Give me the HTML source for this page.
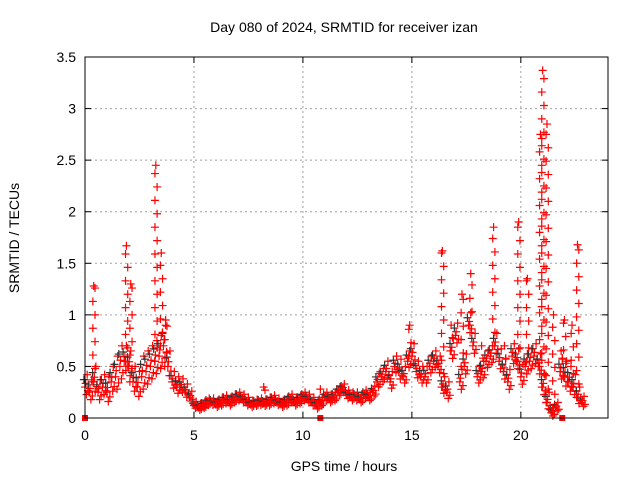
<!DOCTYPE html>
<html><head><meta charset="utf-8"><style>
body{margin:0;background:#fff}
svg{display:block;font-family:"Liberation Sans",sans-serif}
</style></head><body>
<svg id="chart" width="640" height="480">
<text x="344" y="32" text-anchor="middle" font-size="14">Day 080 of 2024, SRMTID for receiver izan</text>
<text x="344" y="471" text-anchor="middle" font-size="14">GPS time / hours</text>
<text transform="translate(19,238) rotate(-90)" text-anchor="middle" font-size="14">SRMTID / TECUs</text>
<g id="grid"></g><g id="ticks"></g><g id="marks"></g>
<rect x="85" y="57" width="523" height="361" fill="none" stroke="#000" stroke-width="1"/>
</svg>
<script>
const xTicks=[0,5,10,15,20];
const yTicks=[0,0.5,1,1.5,2,2.5,3,3.5];
const yTickLabels=["0","0.5","1","1.5","2","2.5","3","3.5"];
const baseStart=0, baseStep=0.2;
const baseValues=[0.3,0.25,0.35,0.25,0.3,0.25,0.35,0.4,0.5,0.55,0.5,0.35,0.3,0.4,0.45,0.5,0.55,0.6,0.7,0.5,0.35,0.3,0.3,0.25,0.2,0.12,0.1,0.12,0.15,0.15,0.13,0.15,0.17,0.15,0.18,0.2,0.18,0.15,0.13,0.14,0.15,0.14,0.15,0.17,0.15,0.13,0.15,0.18,0.15,0.17,0.2,0.18,0.15,0.12,0.15,0.2,0.18,0.2,0.25,0.28,0.22,0.2,0.2,0.18,0.22,0.2,0.25,0.35,0.4,0.45,0.35,0.5,0.45,0.4,0.55,0.6,0.45,0.4,0.4,0.5,0.55,0.5,0.3,0.25,0.65,0.8,0.35,0.5,0.9,0.7,0.4,0.45,0.55,0.6,0.7,0.55,0.45,0.35,0.6,0.55,0.4,0.5,0.55,0.6,0.5,0.3,0.15,0.05,0.1,0.45,0.4,0.35,0.3,0.2,0.15];
const spreadValues=[0.12,0.12,0.15,0.12,0.12,0.15,0.15,0.2,0.2,0.15,0.15,0.15,0.15,0.2,0.2,0.2,0.2,0.2,0.2,0.15,0.1,0.1,0.08,0.08,0.06,0.04,0.04,0.04,0.04,0.04,0.04,0.05,0.05,0.05,0.05,0.05,0.05,0.05,0.04,0.04,0.04,0.04,0.05,0.05,0.04,0.04,0.05,0.05,0.05,0.05,0.05,0.05,0.05,0.05,0.05,0.05,0.05,0.05,0.05,0.05,0.05,0.05,0.05,0.05,0.05,0.05,0.06,0.08,0.08,0.1,0.1,0.1,0.12,0.1,0.1,0.12,0.1,0.1,0.1,0.1,0.1,0.1,0.1,0.1,0.12,0.12,0.12,0.12,0.12,0.12,0.1,0.1,0.1,0.1,0.12,0.12,0.12,0.12,0.12,0.12,0.12,0.12,0.12,0.12,0.12,0.12,0.1,0.05,0.05,0.12,0.15,0.15,0.12,0.1,0.06];
const spikeTimes=[0.4,1.9,2.1,3.25,3.5,3.7,8.2,10.8,14.9,16.4,16.8,17.3,17.7,18.2,18.75,19.25,19.9,20.3,20.9,21.0,21.2,21.5,21.85,22.0,22.35,22.6];
const spikePeaks=[1.28,1.67,1.3,2.45,1.6,0.95,0.3,0.28,0.9,1.62,0.9,1.2,1.4,0.7,1.85,0.7,1.9,1.35,2.75,3.37,2.85,1.0,0.65,0.95,0.9,1.68];
const zeroTimes=[0,10.8,21.9];
const NS="http://www.w3.org/2000/svg";
const X0=85,X1=608,Y0=418,Y1=57,XMAX=24,YMAX=3.5;
function xs(t){return X0+t/XMAX*(X1-X0);}
function ys(v){return Y0-v/YMAX*(Y0-Y1);}
function mk(tag,attrs,parent){const e=document.createElementNS(NS,tag);for(const k in attrs)e.setAttribute(k,attrs[k]);parent.appendChild(e);return e;}
const grid=document.getElementById('grid'),ticks=document.getElementById('ticks'),marks=document.getElementById('marks');
xTicks.forEach((t,i)=>{
 const x=xs(t);
 if(t>0){const g=mk('line',{x1:x,x2:x,y1:Y0,y2:Y1,stroke:'#a0a0a0','stroke-dasharray':'2,3'},grid);
 
 }
 mk('line',{x1:x,x2:x,y1:Y0,y2:Y0-6,stroke:'#000'},ticks);
 mk('line',{x1:x,x2:x,y1:Y1,y2:Y1+6,stroke:'#000'},ticks);
 const l=mk('text',{x:x,y:Y0+22,'text-anchor':'middle','font-size':14},ticks);l.textContent=t;
 
 
});
yTicks.forEach((v,i)=>{
 const y=ys(v);
 if(v>0&&v<YMAX){const g=mk('line',{x1:X0,x2:X1,y1:y,y2:y,stroke:'#a0a0a0','stroke-dasharray':'2,3'},grid);
 
 }
 mk('line',{x1:X0,x2:X0+6,y1:y,y2:y,stroke:'#000'},ticks);
 mk('line',{x1:X1,x2:X1-6,y1:y,y2:y,stroke:'#000'},ticks);
 const l=mk('text',{x:X0-9,y:y+5,'text-anchor':'end','font-size':14},ticks);l.textContent=yTickLabels[i];
 
 
});
function plus(t,v,col){
 const x=xs(t),y=ys(Math.max(0,v));
 const p=mk('path',{d:`M${x-4},${y}h8M${x},${y-4}v8`,stroke:col,'stroke-width':1.2,fill:'none'},marks);
 
 
}
baseValues.forEach((v,i)=>{
 const t=baseStart+i*baseStep,s=spreadValues[i];
 plus(t-0.05,v+s*0.6,'#333');
 plus(t,v,'#f00');
 plus(t+0.07,v-s*0.6,'#f00');
 plus(t+0.1,v+s,'#f00');
 plus(t+0.14,v-s*0.3,'#f00');
 plus(t+0.03,v+s*0.3,'#f00');
});
spikeTimes.forEach((t,i)=>{
 const bi=Math.min(baseValues.length-1,Math.round(t/baseStep));
 const b=baseValues[bi];const peak=spikePeaks[i];
 let k=0;
 for(let v=b;v<peak;v+=0.13){plus(t+(k%2?0.06:-0.04),v,'#f00');k++;}
 plus(t,peak,'#f00');
});
zeroTimes.forEach(t=>{
 const r=mk('rect',{x:xs(t)-3,y:ys(0)-3,width:6,height:6,fill:'#f00'},marks);
 
 
});
</script>
</body></html>
